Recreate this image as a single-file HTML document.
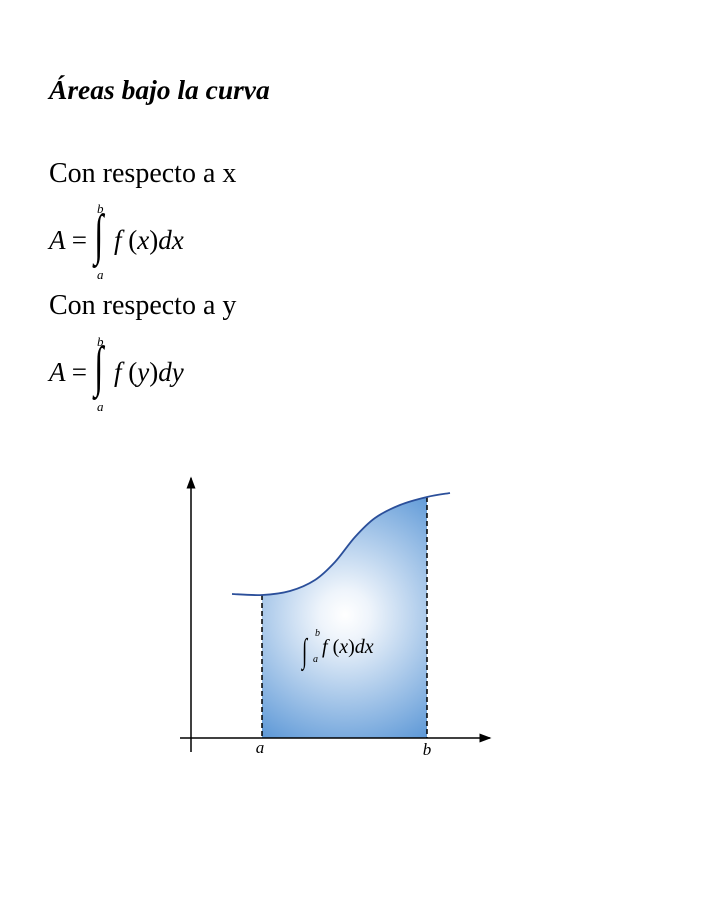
<!DOCTYPE html>
<html><head><meta charset="utf-8"><style>
body{margin:0;width:708px;height:916px;background:#fff;position:relative;overflow:hidden;font-family:"Liberation Serif",serif;color:#000}
.t{position:absolute;white-space:nowrap;line-height:1}
.i{font-style:italic}
</style></head><body>
<div class="t i" style="left:49px;top:76px;font-size:27.5px;font-weight:bold">Áreas bajo la curva</div>
<div class="t" style="left:49px;top:160px;font-size:28px">Con respecto a x</div>
<div>
<div class="t i" style="left:97px;top:202px;font-size:13px">b</div>
<div class="t i" style="left:49px;top:227px;font-size:27px">A <span style="font-style:normal">=</span></div>
<div class="t" style="left:91px;top:207px;font-size:56px;transform:scaleX(0.6)">∫</div>
<div class="t i" style="left:114px;top:227px;font-size:27px">f <span style="font-style:normal">(</span>x<span style="font-style:normal">)</span>dx</div>
<div class="t i" style="left:97px;top:268px;font-size:13px">a</div>
</div>
<div class="t" style="left:49px;top:292px;font-size:28px">Con respecto a y</div>
<div>
<div class="t i" style="left:97px;top:335px;font-size:13px">b</div>
<div class="t i" style="left:49px;top:359px;font-size:27px">A <span style="font-style:normal">=</span></div>
<div class="t" style="left:91px;top:339px;font-size:56px;transform:scaleX(0.6)">∫</div>
<div class="t i" style="left:114px;top:359px;font-size:27px">f <span style="font-style:normal">(</span>y<span style="font-style:normal">)</span>dy</div>
<div class="t i" style="left:97px;top:400px;font-size:13px">a</div>
</div>
<svg id="chart" width="708" height="916" style="position:absolute;left:0;top:0">
<defs>
<radialGradient id="g" gradientUnits="userSpaceOnUse" cx="345" cy="615" r="170">
<stop offset="0" stop-color="#ffffff"/><stop offset="0.15" stop-color="#eef4fb"/><stop offset="1" stop-color="#4287d0"/>
</radialGradient>
<marker id="ar" markerWidth="8" markerHeight="8" refX="7" refY="4" orient="auto"><path d="M0,1 L8,4 L0,7 z" fill="#000"/></marker>
</defs>
<g id="plot"></g>
<line x1="180" y1="738" x2="490" y2="738" stroke="#000" stroke-width="1.5" marker-end="url(#ar)"/>
<line x1="191" y1="752" x2="191" y2="478" stroke="#000" stroke-width="1.5" marker-end="url(#ar)"/>
<text x="260" y="753" font-family="Liberation Serif" font-style="italic" font-size="17" text-anchor="middle">a</text>
<text x="427" y="755" font-family="Liberation Serif" font-style="italic" font-size="17" text-anchor="middle">b</text>
<g font-family="Liberation Serif" font-style="italic">
<text x="302" y="662" font-size="34" font-style="normal" transform="translate(302,0) scale(0.55,1) translate(-302,0)">∫</text>
<text x="315" y="636" font-size="10">b</text>
<text x="313" y="662" font-size="10">a</text>
<text x="322" y="653" font-size="20">f <tspan font-style="normal">(</tspan>x<tspan font-style="normal">)</tspan>dx</text>
</g>
</svg>
<script>
const curveX=[1.64,2.84,3.96,4.96,5.76,6.56,7.36,8.36,9.44,10.36];
const curveY=[5.76,5.72,5.88,6.32,7.04,8.04,8.8,9.32,9.64,9.8];
const boundA=2.84, boundB=9.44;
const X=v=>191+v*25, Y=v=>738-v*25;
const ns="http://www.w3.org/2000/svg", g=document.getElementById('plot');
function smooth(pts){let d=`M${pts[0][0]},${pts[0][1]}`;for(let i=0;i<pts.length-1;i++){const p0=pts[i-1]||pts[i],p1=pts[i],p2=pts[i+1],p3=pts[i+2]||p2;d+=` C${p1[0]+(p2[0]-p0[0])/6},${p1[1]+(p2[1]-p0[1])/6} ${p2[0]-(p3[0]-p1[0])/6},${p2[1]-(p3[1]-p1[1])/6} ${p2[0]},${p2[1]}`;}return d;}
const all=curveX.map((x,i)=>[X(x),Y(curveY[i])]);
const inside=curveX.map((x,i)=>[x,curveY[i]]).filter(p=>p[0]>=boundA&&p[0]<=boundB).map(p=>[X(p[0]),Y(p[1])]);
const area=document.createElementNS(ns,'path');
area.setAttribute('d',smooth(inside)+` L${X(boundB)},${Y(0)} L${X(boundA)},${Y(0)} Z`);
area.setAttribute('fill','url(#g)');


g.appendChild(area);
[boundA,boundB].forEach((b,k)=>{const i=curveX.indexOf(b);const l=document.createElementNS(ns,'line');
l.setAttribute('x1',X(b));l.setAttribute('x2',X(b));l.setAttribute('y1',Y(curveY[i]));l.setAttribute('y2',Y(0));
l.setAttribute('stroke','#000');l.setAttribute('stroke-width','1.5');l.setAttribute('stroke-dasharray','5,3');


g.appendChild(l);});
const c=document.createElementNS(ns,'path');
c.setAttribute('d',smooth(all));c.setAttribute('fill','none');c.setAttribute('stroke','#2b4f9a');c.setAttribute('stroke-width','1.8');


g.appendChild(c);
</script>
</body></html>
